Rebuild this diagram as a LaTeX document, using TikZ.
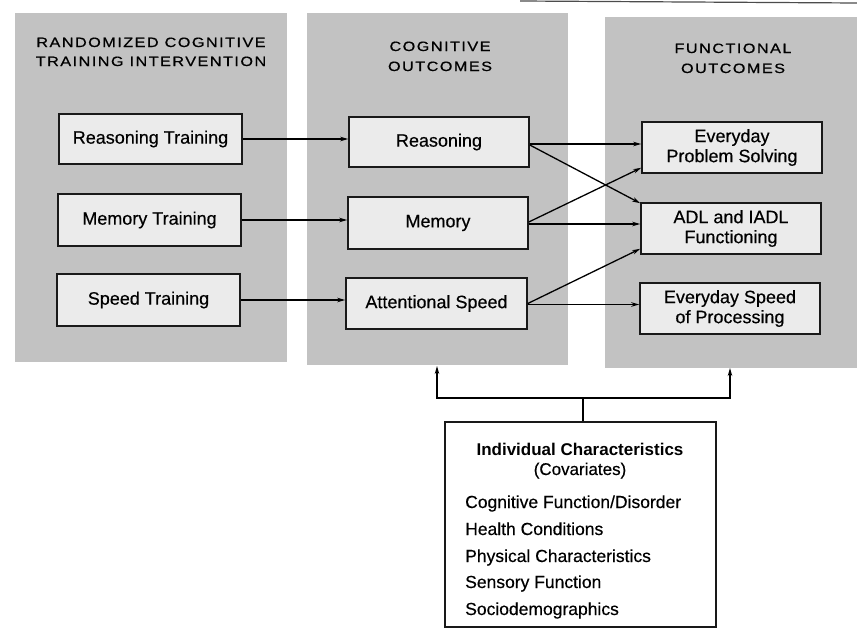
\documentclass[tikz,border=0pt]{standalone}
\usepackage{fontspec}
\setmainfont{Liberation Sans}
\usetikzlibrary{arrows.meta}
\definecolor{panelgray}{gray}{0.76}
\definecolor{boxgray}{gray}{0.92}
\tikzset{
  panel/.style={fill=panelgray, draw=none, inner sep=0pt},
  mbox/.style={draw=black!90, line width=1.6pt, fill=boxgray, align=center,
    inner sep=0pt, font=\fontsize{18}{20}\selectfont\addfontfeature{FakeBold=0.4}},
  head/.style={anchor=base, inner sep=0pt,
    font=\fontsize{13.5}{15}\selectfont\addfontfeatures{FakeStretch=1.2,LetterSpace=11,FakeBold=0.6}},
  arr/.style={line width=1.3pt, -{Stealth[length=8pt,width=4.5pt]}},
  link/.style={line width=1.3pt},
  covtxt/.style={anchor=base west, inner sep=0pt, font=\fontsize{17.5}{20}\selectfont\addfontfeature{FakeBold=0.4}},
}
\begin{document}
\begin{tikzpicture}[x=1pt,y=-1pt]
\useasboundingbox (0,0) rectangle (857,629);
\fill[white] (0,0) rectangle (857,629);
% scan edge line at top
\draw[line width=1.2pt, black!70] (520,1) -- (857,3);
% panels
\node[panel, minimum width=272pt, minimum height=349pt] (P1) at (151,187.5) {};
\node[panel, minimum width=261pt, minimum height=352pt] (P2) at (437.5,189) {};
\node[panel, minimum width=252pt, minimum height=351pt] (P3) at (731,192.5) {};
% headings
\node[head] (h1a) at (151,47) {RANDOMIZED COGNITIVE};
\node[head] (h1b) at (151,66) {TRAINING INTERVENTION};
\node[head] (h2a) at (440,51) {COGNITIVE};
\node[head] (h2b) at (440,71) {OUTCOMES};
\node[head] (h3a) at (733,53) {FUNCTIONAL};
\node[head] (h3b) at (733,73) {OUTCOMES};
% left column
\node[mbox, minimum width=183pt, minimum height=50pt] (RT) at (150.5,139) {Reasoning Training};
\node[mbox, minimum width=183pt, minimum height=52pt] (MT) at (149.5,220) {Memory Training};
\node[mbox, minimum width=183pt, minimum height=52pt] (ST) at (148.5,300) {Speed Training};
% middle column
\node[mbox, minimum width=180pt, minimum height=50pt] (R) at (439,142) {Reasoning};
\node[mbox, minimum width=180pt, minimum height=52pt] (M) at (438,223) {Memory};
\node[mbox, minimum width=181pt, minimum height=51pt] (AS) at (436.5,303.5) {Attentional Speed};
% right column
\node[mbox, minimum width=180pt, minimum height=51pt] (EPS) at (732,147.5) {Everyday\\Problem Solving};
\node[mbox, minimum width=180pt, minimum height=51pt] (ADL) at (731,228.5) {ADL and IADL\\Functioning};
\node[mbox, minimum width=180pt, minimum height=51pt] (ESP) at (730,308.5) {Everyday Speed\\of Processing};
% arrows training -> outcomes
\draw[arr] (RT.east) -- (R.west |- RT.east);
\draw[arr] (MT.east) -- (M.west |- MT.east);
\draw[arr] (ST.east) -- (AS.west |- ST.east);
% cognitive -> functional
\coordinate (r1) at ([yshift=-2pt]R.east);
\coordinate (r2) at ([yshift=-3pt]R.east);
\coordinate (m1) at ([yshift=1pt]M.east);
\coordinate (m2) at ([yshift=-1pt]M.east);
\coordinate (a2) at ([yshift=-1pt]AS.east);
\coordinate (e1) at ([yshift=6pt]EPS.south west);
\coordinate (d1) at ([yshift=-1pt]ADL.north west);
\coordinate (d2) at ([yshift=6pt]ADL.south west);
\draw[arr] (r1) -- (EPS.west |- r1);
\draw[arr] (r2) -- (d1);
\draw[arr] (m1) -- (e1);
\draw[arr] (m2) -- (ADL.west |- m2);
\draw[arr] (AS.east) -- (d2);
\draw[arr] (a2) -- (ESP.west |- a2);
% covariates box
\node[draw=black!90, line width=1.6pt, fill=white, minimum width=271pt, minimum height=205pt, inner sep=0pt] (Cov) at (580.5,524.5) {};
\node[anchor=base, inner sep=0pt, font=\fontsize{17}{20}\selectfont\bfseries] (ct1) at (580,455) {Individual Characteristics};
\node[anchor=base, inner sep=0pt, font=\fontsize{17}{20}\selectfont\addfontfeature{FakeBold=0.4}] (ct2) at (580,475) {(Covariates)};
\node[covtxt] (c1) at (465,508) {Cognitive Function/Disorder};
\node[covtxt] (c2) at (465,535) {Health Conditions};
\node[covtxt] (c3) at (465,562) {Physical Characteristics};
\node[covtxt] (c4) at (465,588) {Sensory Function};
\node[covtxt] (c5) at (465,615) {Sociodemographics};
% covariate connectors
\coordinate (J) at (583,398);
\coordinate (T2) at (437,366);
\coordinate (T3) at (730,368);
\draw[link] (Cov.north -| J) -- (J);
\draw[arr] (J) -| (T2);
\draw[arr] (J) -| (T3);
\end{tikzpicture}
\end{document}
